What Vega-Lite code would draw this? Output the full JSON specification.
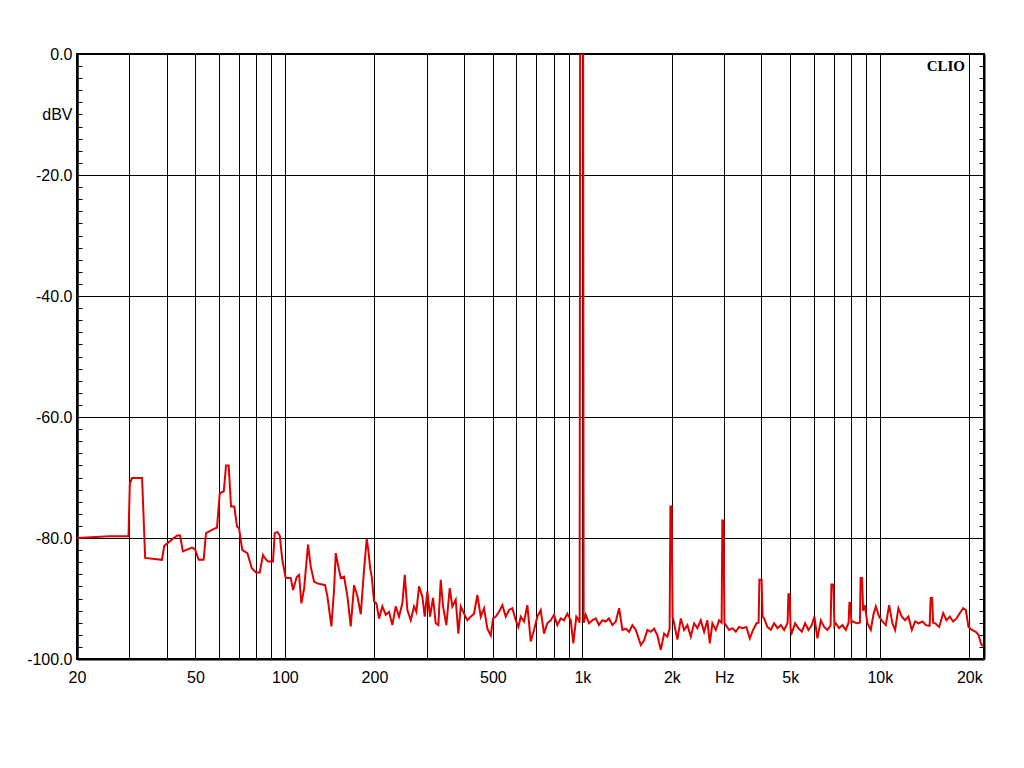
{
  "$schema": "https://vega.github.io/schema/vega-lite/v6.json",
  "width": 907,
  "height": 605,
  "autosize": {"type": "none"},
  "padding": {"left": 77, "top": 54, "right": 40, "bottom": 109},
  "background": "white",
  "config": {
    "view": {"stroke": "black", "strokeWidth": 2},
    "axis": {
      "labelFont": "Liberation Sans",
      "labelFontSize": 16,
      "labelColor": "black",
      "domainColor": "black",
      "domainWidth": 2,
      "gridColor": "black",
      "gridWidth": 1,
      "labelOverlap": false,
      "labelBound": false,
      "labelFlush": false,
      "title": null
    }
  },
  "title": {
    "text": "CLIO",
    "orient": "top",
    "anchor": "end",
    "frame": "group",
    "font": "Liberation Serif",
    "fontWeight": "bold",
    "fontSize": 15,
    "color": "black",
    "baseline": "alphabetic",
    "offset": 0,
    "dx": -19,
    "dy": 40
  },
  "data": {"values": [
    {"freq": 20, "dBV": -80.0}, {"freq": 25.8, "dBV": -79.7}, {"freq": 29.5, "dBV": -79.7}, {"freq": 29.8, "dBV": -79.7},
    {"freq": 30.1, "dBV": -71.0}, {"freq": 30.6, "dBV": -70.1}, {"freq": 33.1, "dBV": -70.1}, {"freq": 33.9, "dBV": -83.3},
    {"freq": 38.6, "dBV": -83.6}, {"freq": 39.3, "dBV": -81.3}, {"freq": 42.3, "dBV": -80.0}, {"freq": 43.4, "dBV": -79.6},
    {"freq": 44.4, "dBV": -79.6}, {"freq": 45.4, "dBV": -82.2}, {"freq": 48.7, "dBV": -81.6}, {"freq": 49.9, "dBV": -81.9},
    {"freq": 51.3, "dBV": -83.6}, {"freq": 53.3, "dBV": -83.6}, {"freq": 54.3, "dBV": -79.2}, {"freq": 57.7, "dBV": -78.5},
    {"freq": 59.1, "dBV": -78.3}, {"freq": 60.4, "dBV": -72.6}, {"freq": 62.3, "dBV": -72.3}, {"freq": 63.4, "dBV": -68.0},
    {"freq": 64.7, "dBV": -68.0}, {"freq": 65.9, "dBV": -74.8}, {"freq": 67.6, "dBV": -74.8}, {"freq": 69.0, "dBV": -78.1},
    {"freq": 70.1, "dBV": -78.4}, {"freq": 71.9, "dBV": -82.0}, {"freq": 74.8, "dBV": -82.5}, {"freq": 77.4, "dBV": -85.0},
    {"freq": 80.0, "dBV": -85.7}, {"freq": 82.3, "dBV": -85.7}, {"freq": 84.4, "dBV": -82.8}, {"freq": 86.2, "dBV": -83.5},
    {"freq": 87.8, "dBV": -83.9}, {"freq": 91.2, "dBV": -83.9}, {"freq": 92.4, "dBV": -79.2}, {"freq": 94.3, "dBV": -79.0},
    {"freq": 96.1, "dBV": -79.6}, {"freq": 98.0, "dBV": -83.6}, {"freq": 100.6, "dBV": -86.6}, {"freq": 104.6, "dBV": -86.6},
    {"freq": 106.5, "dBV": -88.6}, {"freq": 109.6, "dBV": -86.4}, {"freq": 111.6, "dBV": -86.1}, {"freq": 113.6, "dBV": -90.8},
    {"freq": 116.0, "dBV": -88.4}, {"freq": 119.6, "dBV": -81.1}, {"freq": 122.1, "dBV": -84.7}, {"freq": 125.3, "dBV": -87.2},
    {"freq": 128.5, "dBV": -87.5}, {"freq": 136.5, "dBV": -87.8}, {"freq": 138.9, "dBV": -89.6}, {"freq": 143.3, "dBV": -94.6},
    {"freq": 146.3, "dBV": -88.6}, {"freq": 148.2, "dBV": -82.5}, {"freq": 151.2, "dBV": -84.7}, {"freq": 154.1, "dBV": -86.6},
    {"freq": 158.1, "dBV": -86.4}, {"freq": 162.2, "dBV": -89.6}, {"freq": 166.5, "dBV": -94.6}, {"freq": 170.8, "dBV": -87.8},
    {"freq": 175.2, "dBV": -89.6}, {"freq": 179.9, "dBV": -92.6}, {"freq": 184.5, "dBV": -85.3}, {"freq": 188.4, "dBV": -80.2},
    {"freq": 190.8, "dBV": -82.0}, {"freq": 193.5, "dBV": -85.0}, {"freq": 195.9, "dBV": -86.4}, {"freq": 199.4, "dBV": -90.5},
    {"freq": 203.0, "dBV": -90.8}, {"freq": 207.3, "dBV": -93.3}, {"freq": 212.6, "dBV": -91.3}, {"freq": 218.3, "dBV": -92.7},
    {"freq": 223.9, "dBV": -92.2}, {"freq": 229.7, "dBV": -94.4}, {"freq": 235.8, "dBV": -91.3}, {"freq": 241.9, "dBV": -93.0},
    {"freq": 248.2, "dBV": -90.8}, {"freq": 252.9, "dBV": -86.1}, {"freq": 258.0, "dBV": -91.9}, {"freq": 264.9, "dBV": -93.6},
    {"freq": 271.7, "dBV": -91.3}, {"freq": 276.6, "dBV": -92.2}, {"freq": 282.4, "dBV": -88.0}, {"freq": 289.8, "dBV": -89.7},
    {"freq": 295.2, "dBV": -93.0}, {"freq": 301.2, "dBV": -88.8}, {"freq": 307.6, "dBV": -93.0}, {"freq": 314.8, "dBV": -89.9},
    {"freq": 321.4, "dBV": -94.1}, {"freq": 328.0, "dBV": -94.4}, {"freq": 334.1, "dBV": -86.9}, {"freq": 340.1, "dBV": -91.3},
    {"freq": 348.9, "dBV": -94.4}, {"freq": 358.2, "dBV": -88.3}, {"freq": 365.5, "dBV": -91.3}, {"freq": 375.2, "dBV": -90.2},
    {"freq": 382.9, "dBV": -95.8}, {"freq": 390.1, "dBV": -91.3}, {"freq": 400.1, "dBV": -92.5}, {"freq": 410.5, "dBV": -93.6},
    {"freq": 421.5, "dBV": -93.0}, {"freq": 432.3, "dBV": -92.5}, {"freq": 443.6, "dBV": -89.4}, {"freq": 455.4, "dBV": -93.0},
    {"freq": 467.2, "dBV": -91.6}, {"freq": 479.3, "dBV": -95.0}, {"freq": 492.1, "dBV": -96.1}, {"freq": 500.9, "dBV": -93.3},
    {"freq": 511.5, "dBV": -93.0}, {"freq": 524.7, "dBV": -92.2}, {"freq": 538.3, "dBV": -91.1}, {"freq": 552.7, "dBV": -93.0},
    {"freq": 566.9, "dBV": -91.9}, {"freq": 581.6, "dBV": -91.6}, {"freq": 597.1, "dBV": -93.6}, {"freq": 609.2, "dBV": -94.7},
    {"freq": 620.7, "dBV": -93.0}, {"freq": 636.7, "dBV": -93.8}, {"freq": 653.2, "dBV": -91.1}, {"freq": 670.6, "dBV": -97.1},
    {"freq": 687.9, "dBV": -95.2}, {"freq": 705.7, "dBV": -93.0}, {"freq": 724.5, "dBV": -91.9}, {"freq": 743.2, "dBV": -95.8},
    {"freq": 762.4, "dBV": -94.1}, {"freq": 782.8, "dBV": -93.6}, {"freq": 803.0, "dBV": -92.7}, {"freq": 823.8, "dBV": -94.4},
    {"freq": 845.7, "dBV": -93.3}, {"freq": 867.6, "dBV": -93.6}, {"freq": 890.0, "dBV": -92.5}, {"freq": 913.8, "dBV": -93.6},
    {"freq": 932.4, "dBV": -97.4}, {"freq": 954.3, "dBV": -93.0}, {"freq": 970.7, "dBV": -93.5}, {"freq": 979, "dBV": -94.0},
    {"freq": 983, "dBV": 0.0}, {"freq": 1006, "dBV": 0.0}, {"freq": 1010, "dBV": -94.0}, {"freq": 1016, "dBV": -93.6},
    {"freq": 1026.3, "dBV": -92.7}, {"freq": 1052.8, "dBV": -94.1}, {"freq": 1080.1, "dBV": -93.6}, {"freq": 1108.8, "dBV": -93.3},
    {"freq": 1137.5, "dBV": -94.4}, {"freq": 1166.9, "dBV": -93.6}, {"freq": 1198.0, "dBV": -93.8}, {"freq": 1229.1, "dBV": -93.3},
    {"freq": 1261.8, "dBV": -94.4}, {"freq": 1295.4, "dBV": -93.8}, {"freq": 1329.0, "dBV": -91.6}, {"freq": 1363.4, "dBV": -95.2},
    {"freq": 1399.7, "dBV": -95.0}, {"freq": 1436.0, "dBV": -95.5}, {"freq": 1473.2, "dBV": -94.4}, {"freq": 1512.4, "dBV": -95.2},
    {"freq": 1572.2, "dBV": -97.7}, {"freq": 1612.8, "dBV": -96.9}, {"freq": 1654.5, "dBV": -95.2}, {"freq": 1698.7, "dBV": -95.5},
    {"freq": 1742.6, "dBV": -95.0}, {"freq": 1787.6, "dBV": -96.1}, {"freq": 1835.2, "dBV": -98.5}, {"freq": 1882.7, "dBV": -95.8},
    {"freq": 1931.5, "dBV": -96.3}, {"freq": 1965, "dBV": -95.0}, {"freq": 1977, "dBV": -74.8}, {"freq": 1995, "dBV": -74.8},
    {"freq": 2011, "dBV": -93.0}, {"freq": 2034, "dBV": -94.1}, {"freq": 2087, "dBV": -96.8}, {"freq": 2143, "dBV": -93.3},
    {"freq": 2198, "dBV": -95.2}, {"freq": 2255, "dBV": -94.4}, {"freq": 2315, "dBV": -96.3}, {"freq": 2375, "dBV": -94.1},
    {"freq": 2436, "dBV": -94.9}, {"freq": 2501, "dBV": -93.6}, {"freq": 2566, "dBV": -95.5}, {"freq": 2632, "dBV": -93.6},
    {"freq": 2682, "dBV": -97.4}, {"freq": 2736, "dBV": -94.1}, {"freq": 2809, "dBV": -95.2}, {"freq": 2882, "dBV": -93.6},
    {"freq": 2939, "dBV": -94.0}, {"freq": 2955, "dBV": -77.1}, {"freq": 2982, "dBV": -77.1}, {"freq": 3003, "dBV": -94.0},
    {"freq": 3036, "dBV": -94.4}, {"freq": 3114, "dBV": -95.2}, {"freq": 3195, "dBV": -94.9}, {"freq": 3280, "dBV": -95.5},
    {"freq": 3365, "dBV": -94.7}, {"freq": 3452, "dBV": -94.9}, {"freq": 3560, "dBV": -94.7}, {"freq": 3655, "dBV": -96.6},
    {"freq": 3750, "dBV": -95.2}, {"freq": 3847, "dBV": -94.1}, {"freq": 3913, "dBV": -94.0}, {"freq": 3937, "dBV": -86.9},
    {"freq": 4005, "dBV": -86.9}, {"freq": 4036, "dBV": -93.0}, {"freq": 4084, "dBV": -93.3}, {"freq": 4189, "dBV": -94.7},
    {"freq": 4301, "dBV": -95.2}, {"freq": 4412, "dBV": -94.1}, {"freq": 4526, "dBV": -94.9}, {"freq": 4647, "dBV": -94.4},
    {"freq": 4767, "dBV": -95.2}, {"freq": 4898, "dBV": -94.0}, {"freq": 4928, "dBV": -89.3}, {"freq": 4974, "dBV": -89.3},
    {"freq": 5013, "dBV": -95.0}, {"freq": 5060, "dBV": -95.7}, {"freq": 5191, "dBV": -94.1}, {"freq": 5325, "dBV": -94.9},
    {"freq": 5467, "dBV": -95.5}, {"freq": 5609, "dBV": -94.1}, {"freq": 5754, "dBV": -95.2}, {"freq": 5907, "dBV": -94.4},
    {"freq": 6027, "dBV": -93.0}, {"freq": 6169, "dBV": -96.6}, {"freq": 6334, "dBV": -93.6}, {"freq": 6497, "dBV": -94.7},
    {"freq": 6665, "dBV": -95.2}, {"freq": 6832, "dBV": -94.5}, {"freq": 6875, "dBV": -87.7}, {"freq": 6982, "dBV": -87.7},
    {"freq": 7036, "dBV": -94.5}, {"freq": 7113, "dBV": -94.1}, {"freq": 7297, "dBV": -94.9}, {"freq": 7485, "dBV": -94.4},
    {"freq": 7685, "dBV": -95.2}, {"freq": 7853, "dBV": -94.0}, {"freq": 7902, "dBV": -90.7}, {"freq": 7964, "dBV": -90.7},
    {"freq": 8025, "dBV": -94.0}, {"freq": 8132, "dBV": -93.8}, {"freq": 8342, "dBV": -94.1}, {"freq": 8571, "dBV": -94.0},
    {"freq": 8618, "dBV": -86.6}, {"freq": 8719, "dBV": -86.6}, {"freq": 8786, "dBV": -92.0}, {"freq": 8903, "dBV": -91.1},
    {"freq": 9084, "dBV": -94.1}, {"freq": 9326, "dBV": -95.2}, {"freq": 9515, "dBV": -92.7}, {"freq": 9694, "dBV": -91.3},
    {"freq": 9944, "dBV": -93.0}, {"freq": 10202, "dBV": -93.8}, {"freq": 10474, "dBV": -94.4}, {"freq": 10746, "dBV": -91.1},
    {"freq": 11024, "dBV": -94.1}, {"freq": 11257, "dBV": -95.2}, {"freq": 11548, "dBV": -91.6}, {"freq": 11857, "dBV": -93.0},
    {"freq": 12164, "dBV": -93.6}, {"freq": 12479, "dBV": -93.0}, {"freq": 12812, "dBV": -95.2}, {"freq": 13144, "dBV": -93.8},
    {"freq": 13484, "dBV": -94.1}, {"freq": 13910, "dBV": -93.8}, {"freq": 14281, "dBV": -94.4}, {"freq": 14708, "dBV": -94.5},
    {"freq": 14822, "dBV": -89.9}, {"freq": 14994, "dBV": -89.9}, {"freq": 15110, "dBV": -94.0}, {"freq": 15348, "dBV": -94.1},
    {"freq": 15830, "dBV": -94.7}, {"freq": 16329, "dBV": -92.4}, {"freq": 16751, "dBV": -93.6}, {"freq": 17198, "dBV": -93.0},
    {"freq": 17644, "dBV": -93.8}, {"freq": 18100, "dBV": -93.3}, {"freq": 18582, "dBV": -92.4}, {"freq": 19063, "dBV": -91.6},
    {"freq": 19465, "dBV": -91.9}, {"freq": 19861, "dBV": -94.7}, {"freq": 20392, "dBV": -95.2}, {"freq": 21032, "dBV": -95.5},
    {"freq": 21460, "dBV": -96.0}, {"freq": 21862, "dBV": -97.4}, {"freq": 22134, "dBV": -97.9}
  ]},
  "encoding": {
    "x": {
      "field": "freq",
      "type": "quantitative",
      "scale": {"type": "log", "domain": [20, 22400], "nice": false},
      "axis": {
        "orient": "bottom",
        "values": [20, 30, 40, 50, 60, 70, 80, 90, 100, 200, 300, 400, 500, 600, 700, 800, 900, 1000, 2000, 3000, 4000, 5000, 6000, 7000, 8000, 9000, 10000, 20000],
        "grid": true,
        "ticks": false,
        "labelPadding": 10,
        "labelExpr": "datum.value == 1000 ? '1k' : datum.value == 2000 ? '2k' : datum.value == 3000 ? 'Hz' : datum.value == 5000 ? '5k' : datum.value == 10000 ? '10k' : datum.value == 20000 ? '20k' : (datum.value == 20 || datum.value == 50 || datum.value == 100 || datum.value == 200 || datum.value == 500) ? '' + datum.value : ''"
      }
    }
  },
  "layer": [
    {
      "mark": {"type": "line", "color": "#e00000", "strokeWidth": 2, "clip": true},
      "encoding": {
        "y": {
          "field": "dBV",
          "type": "quantitative",
          "scale": {"domain": [-100, 0], "nice": false},
          "axis": {
            "orient": "left",
            "values": [0, -10, -20, -40, -60, -80, -100],
            "grid": true,
            "gridOpacity": {"condition": {"test": "datum.value % 20 == 0", "value": 1}, "value": 0},
            "ticks": false,
            "labelPadding": 5,
            "labelExpr": "datum.value == -10 ? 'dBV' : (datum.value == 0 ? '0.0' : '-' + abs(datum.value) + '.0')"
          }
        }
      }
    },
    {
      "mark": {"type": "line", "opacity": 0},
      "encoding": {
        "y": {
          "field": "dBV",
          "type": "quantitative",
          "axis": {
            "orient": "right",
            "offset": -907,
            "values": [-2, -4, -6, -8, -10, -12, -14, -16, -18, -20, -22, -24, -26, -28, -30, -32, -34, -36, -38, -40, -42, -44, -46, -48, -50, -52, -54, -56, -58, -60, -62, -64, -66, -68, -70, -72, -74, -76, -78, -80, -82, -84, -86, -88, -90, -92, -94, -96, -98],
            "labels": true,
            "labelExpr": "''",
            "ticks": true,
            "tickSize": 5,
            "tickWidth": 1,
            "tickColor": "black"
          }
        }
      }
    },
    {
      "mark": {"type": "line", "opacity": 0},
      "encoding": {
        "y": {
          "field": "dBV",
          "type": "quantitative",
          "axis": {
            "orient": "left",
            "offset": -907,
            "values": [-2, -4, -6, -8, -10, -12, -14, -16, -18, -20, -22, -24, -26, -28, -30, -32, -34, -36, -38, -40, -42, -44, -46, -48, -50, -52, -54, -56, -58, -60, -62, -64, -66, -68, -70, -72, -74, -76, -78, -80, -82, -84, -86, -88, -90, -92, -94, -96, -98],
            "labels": true,
            "labelExpr": "''",
            "ticks": true,
            "tickSize": 5,
            "tickWidth": 1,
            "tickColor": "black"
          }
        }
      }
    }
  ],
  "resolve": {"axis": {"y": "independent"}}
}
